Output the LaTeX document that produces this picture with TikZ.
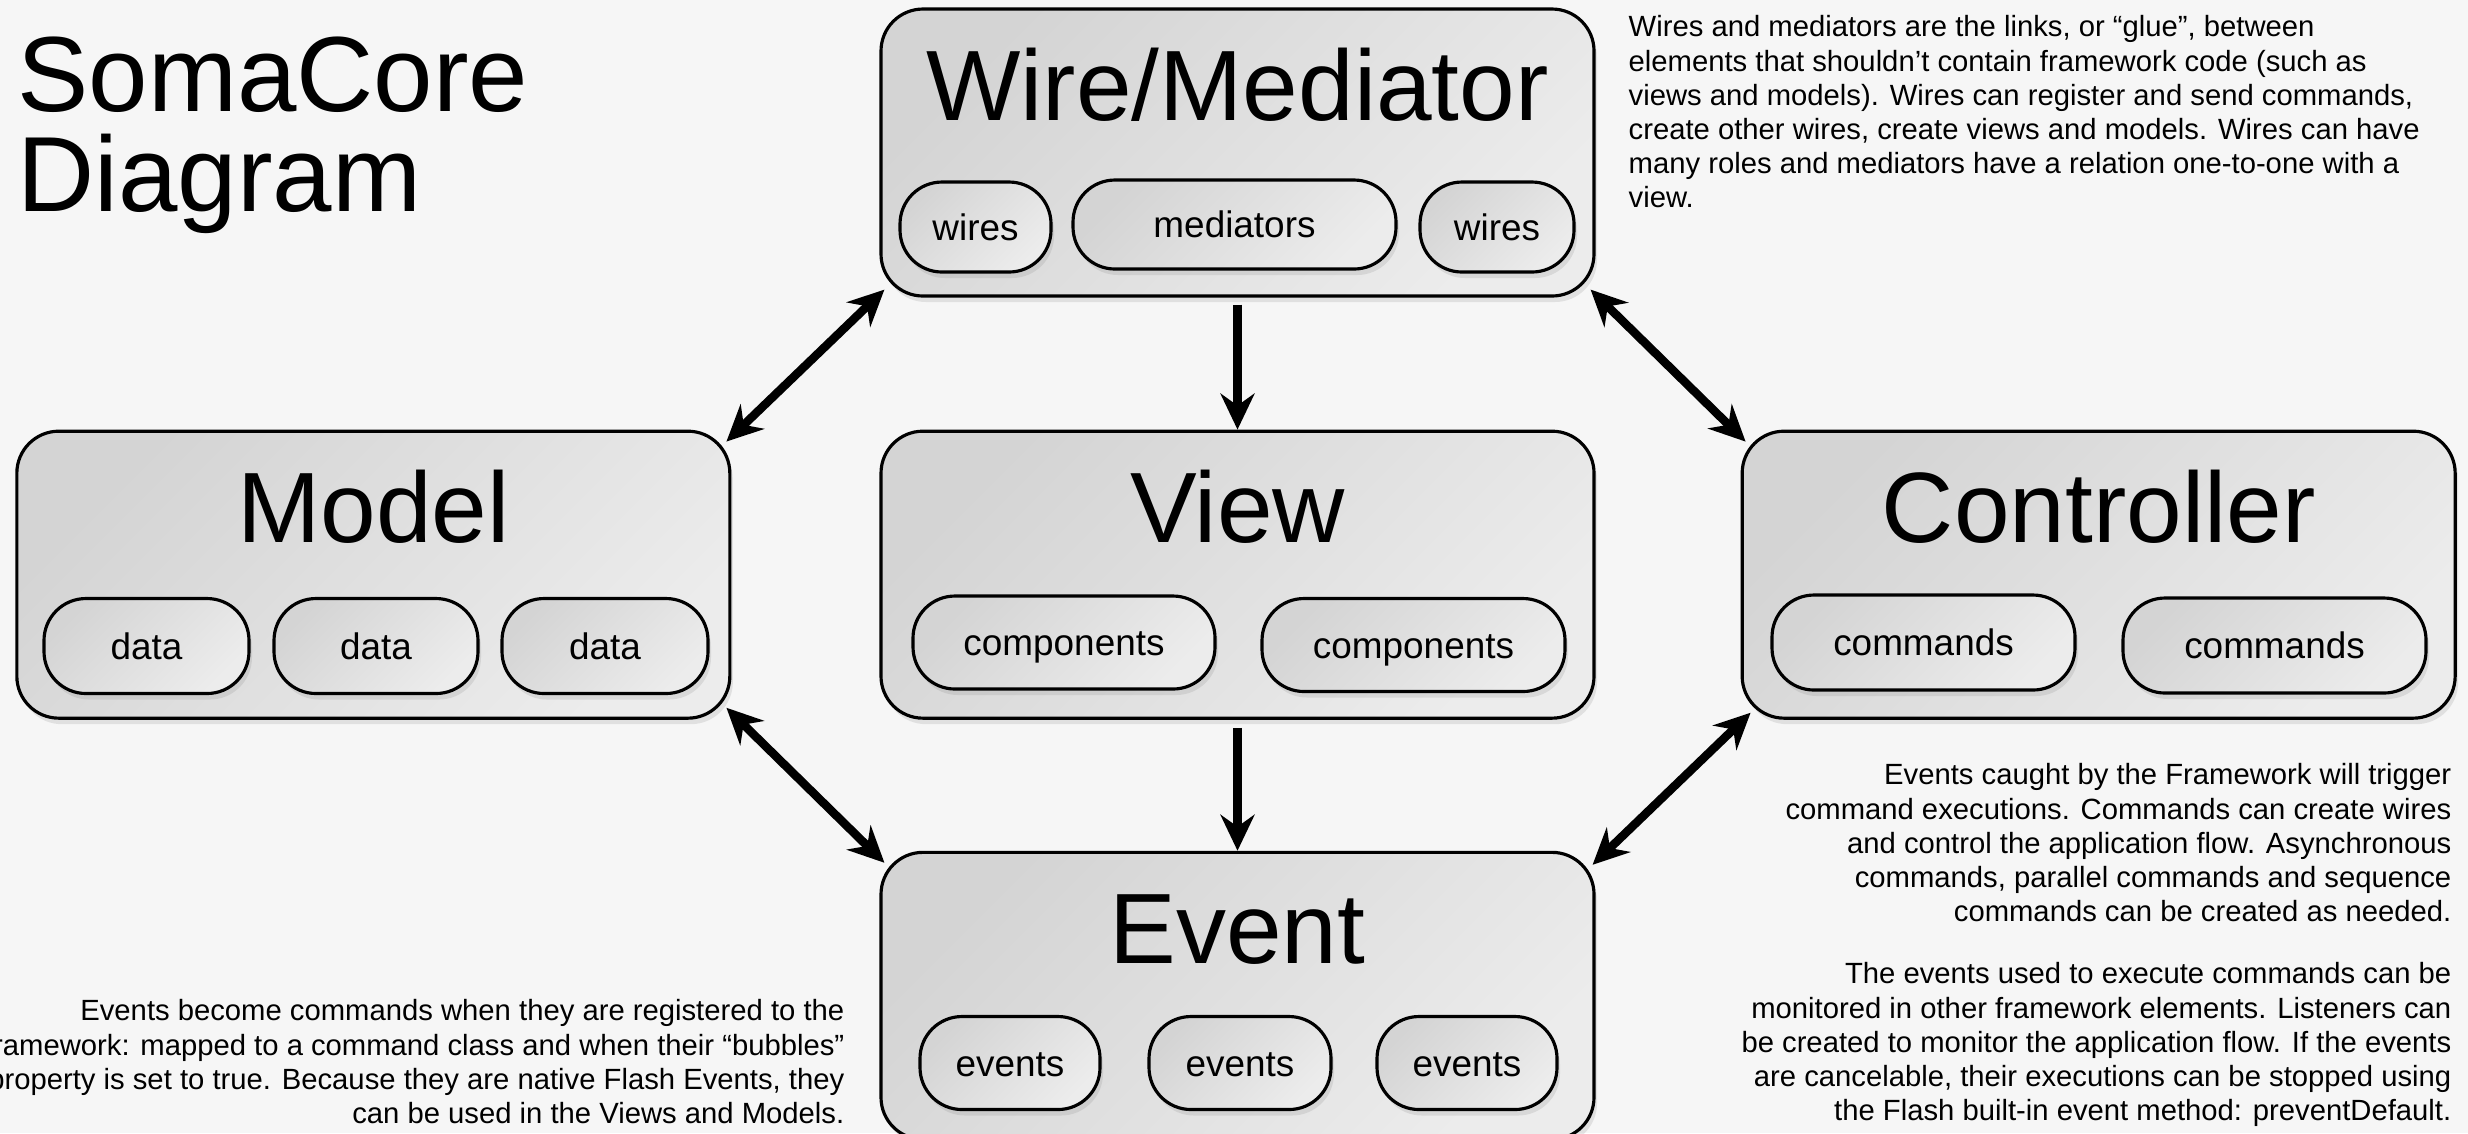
\documentclass[tikz,border=0pt]{standalone}
\usepackage{fontspec}
\setmainfont{Liberation Sans}
\usepackage{xcolor}
\usepackage{tikz}
\usetikzlibrary{positioning,calc,arrows.meta,shadows}
\definecolor{bggray}{HTML}{F6F6F6}
\definecolor{boxdark}{HTML}{D4D4D4}
\definecolor{boxlight}{HTML}{ECECEC}
\tikzstyle{arrow} = [-{Stealth[length=3.6mm,width=3.4mm,inset=1.2mm]}, line width=0.85mm]
\tikzstyle{twoway} = [{Stealth[length=3.6mm,width=3.4mm,inset=1.2mm]}-{Stealth[length=3.6mm,width=3.4mm,inset=1.2mm]}, line width=0.85mm]
\tikzstyle{block} = [draw, line width=0.9pt, rounded corners=4.2mm, minimum width=7.13cm, minimum height=2.87cm, top color=boxdark, bottom color=boxlight, shading angle=45, drop shadow={opacity=0.18, shadow xshift=0.3mm, shadow yshift=-0.6mm}]
\tikzstyle{pill} = [draw, line width=0.9pt, rounded corners=4.2mm, minimum height=0.93cm, inner sep=0pt, text height=0.74em, text depth=0pt, top color=boxdark, bottom color=boxlight, shading angle=45, drop shadow={opacity=0.18, shadow xshift=0.3mm, shadow yshift=-0.6mm}, font=\fontsize{10.5}{12}\selectfont]
\tikzstyle{blocktitle} = [inner sep=0pt, anchor=base, font=\fontsize{28.45}{30}\selectfont]
\tikzstyle{note} = [inner sep=0pt, font=\fontsize{8.32}{9.73}\selectfont]

\begin{document}
\begin{tikzpicture}
	\fill [bggray] (0,0) rectangle (24.68,-11.33);
	\useasboundingbox (0,0) rectangle (24.68,-11.33);

	% title and notes
	\node (title) [inner sep=0pt, anchor=north west, align=left, font=\fontsize{30.4}{28.45}\selectfont] at (0.17,-0.36) {SomaCore\\Diagram};
	\node (wirenote) [note, anchor=north west, align=left] at (16.28,-0.15) {Wires and mediators are the links, or “glue”, between\\elements that shouldn’t contain framework code (such as\\views and models). Wires can register and send commands,\\create other wires, create views and models. Wires can have\\many roles and mediators have a relation one-to-one with a\\view.};
	\node (ctrlnote) [note, anchor=north east, align=right] at (24.52,-7.63) {Events caught by the Framework will trigger\\command executions. Commands can create wires\\and control the application flow. Asynchronous\\commands, parallel commands and sequence\\commands can be created as needed.};
	\node (listennote) [note, anchor=north east, align=right] at (24.52,-9.62) {The events used to execute commands can be\\monitored in other framework elements. Listeners can\\be created to monitor the application flow. If the events\\are cancelable, their executions can be stopped using\\the Flash built-in event method: preventDefault.};
	\node (eventnote) [note, anchor=north east, align=right] at (8.45,-9.99) {Events become commands when they are registered to the\\framework: mapped to a command class and when their “bubbles”\\property is set to true. Because they are native Flash Events, they\\can be used in the Views and Models.};

	% blocks
	\node (wire) [block] at (12.375,-1.525) {};
	\node (view) [block, below=1.32cm of wire] {};
	\node (model) [block, left=1.48cm of view] {};
	\node (ctrl) [block, right=1.45cm of view] {};
	\node (event) [block, below=1.31cm of view] {};

	\node (wiretitle) [blocktitle] at ($(wire.north)+(0,-1.13)$) {Wire/Mediator};
	\node (viewtitle) [blocktitle] at ($(view.north)+(0,-1.13)$) {View};
	\node (modeltitle) [blocktitle] at ($(model.north)+(0,-1.13)$) {Model};
	\node (ctrltitle) [blocktitle] at ($(ctrl.north)+(0,-1.13)$) {Controller};
	\node (eventtitle) [blocktitle] at ($(event.north)+(0,-1.13)$) {Event};

	% parts
	\node (wires1) [pill, minimum width=1.51cm, minimum height=0.9cm] at (9.755,-2.27) {wires};
	\node (mediators) [pill, minimum width=3.23cm, minimum height=0.89cm] at (12.345,-2.245) {mediators};
	\node (wires2) [pill, minimum width=1.54cm, minimum height=0.9cm] at (14.97,-2.27) {wires};
	\node (data1) [pill, minimum width=2.05cm, minimum height=0.95cm] at (1.465,-6.46) {data};
	\node (data2) [pill, minimum width=2.04cm, minimum height=0.95cm] at (3.76,-6.46) {data};
	\node (data3) [pill, minimum width=2.06cm, minimum height=0.95cm] at (6.05,-6.46) {data};
	\node (comp1) [pill, minimum width=3.02cm] at (10.64,-6.425) {components};
	\node (comp2) [pill, minimum width=3.03cm] at (14.135,-6.45) {components};
	\node (cmd1) [pill, minimum width=3.03cm, minimum height=0.95cm] at (19.235,-6.425) {commands};
	\node (cmd2) [pill, minimum width=3.03cm, minimum height=0.95cm] at (22.745,-6.455) {commands};
	\node (events1) [pill, minimum width=1.80cm] at (10.10,-10.63) {events};
	\node (events2) [pill, minimum width=1.82cm] at (12.40,-10.63) {events};
	\node (events3) [pill, minimum width=1.80cm] at (14.67,-10.63) {events};

	% links
	\draw [arrow, shorten <=0.7mm] (wire) -- (view);
	\draw [arrow, shorten <=0.8mm] (view) -- (event);
	\draw [twoway] ($(model.north east)+(-0.05,-0.12)$) -- ($(wire.south west)+(0.05,0.08)$);
	\draw [twoway] ($(wire.south east)+(-0.05,0.08)$) -- ($(ctrl.north west)+(0.05,-0.12)$);
	\draw [twoway] ($(model.south east)+(-0.05,0.12)$) -- ($(event.north west)+(0.05,-0.12)$);
	\draw [twoway] ($(ctrl.south west)+(0.1,0.07)$) -- ($(event.north east)+(-0.03,-0.14)$);
\end{tikzpicture}
\end{document}
